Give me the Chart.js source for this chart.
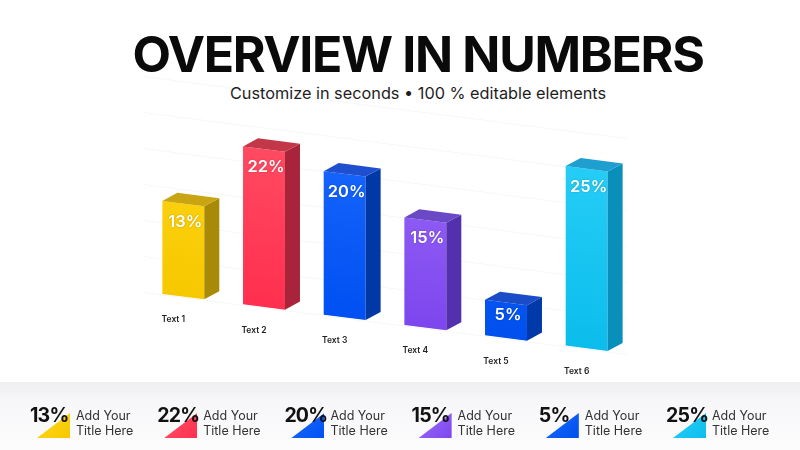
<!DOCTYPE html>
<html>
<head>
<meta charset="utf-8">
<script src="https://cdn.jsdelivr.net/npm/chart.js@4.4.0/dist/chart.umd.min.js"></script>
<style>
    html, body { margin: 0; padding: 0; }
    body { width: 800px; height: 450px; position: relative; overflow: hidden; background: #fff; font-family: "Inter", "Noto Sans", sans-serif; }
    .band { position: absolute; left: 0; top: 382px; width: 800px; height: 68px; background: linear-gradient(#efeff2 0, #f7f7f9 18px, #fcfcfd 68px); }
    .title { position: absolute; left: 18px; width: 800px; top: 24px; text-align: center; font-size: 50px; font-weight: 700; color: #0a0a0a; line-height: 60px; letter-spacing: -1.3px; }
    .subtitle { position: absolute; left: 18px; width: 800px; top: 82px; text-align: center; font-size: 16.3px; color: #1e1e1e; line-height: 22px; }
    #wrap { position: absolute; left: 0; top: 0; width: 800px; height: 450px; }
    .item { position: absolute; top: 403px; height: 40px; width: 125px; }
    .item .pct { position: absolute; left: 0; top: 0; font-size: 19.5px; font-weight: 700; color: #111; line-height: 24px; letter-spacing: -0.8px; z-index: 2; }
    .item .tri { position: absolute; left: 7px; top: 10px; width: 33px; height: 25px; clip-path: polygon(0 100%, 100% 0, 100% 100%); }
    .item .txt { position: absolute; left: 46px; top: 6px; font-size: 12.5px; color: #333; line-height: 14.5px; }
</style>
</head>
<body>
<div class="band"></div>
<div class="title">OVERVIEW IN NUMBERS</div>
<div class="subtitle">Customize in seconds • 100 % editable elements</div>
<div id="wrap"><canvas id="chart"></canvas></div>
<div id="legend"></div>
<script>
// ==== Data ====
const categories = ['Text 1', 'Text 2', 'Text 3', 'Text 4', 'Text 5', 'Text 6'];
const values = [13, 22, 20, 15, 5, 25];
const legendTitles = ['Add Your<br>Title Here', 'Add Your<br>Title Here', 'Add Your<br>Title Here',
    'Add Your<br>Title Here', 'Add Your<br>Title Here', 'Add Your<br>Title Here'];
const yMax = 30;
const yStep = 5;

// ==== Colours ====
const lightColors = ['#ffd81a', '#ff5468', '#1e6cff', '#9d6cf8', '#1a68ff', '#2ad0f8'];
const frontColors = ['#f6c800', '#ff2f4e', '#0050f2', '#7d46ee', '#0050ee', '#0bbdec'];
const sideColors = ['#a88a06', '#a8243a', '#0038a6', '#5230ae', '#003aa8', '#0a8fbb'];
const topColors = ['#c9a512', '#c23848', '#1d4fcf', '#6a48c6', '#1a4cc8', '#1e9fd0'];

const SKEW = 0.128;       // slant of the base line
const DEPTH_X = 15;       // 3d depth of the boxes
const DEPTH_Y = -10;

function skewY(chart, x, y) {
    return y + SKEW * (x - chart.chartArea.left);
}

// ==== Plugins ====
const perspective = {
    id: 'perspective',
    beforeDraw(chart) {
        const ctx = chart.ctx;
        ctx.save();
        ctx.transform(1, SKEW, 0, 1, 0, -SKEW * chart.chartArea.left);
    },
    afterDatasetsDraw(chart) {
        const ctx = chart.ctx;
        const meta = chart.getDatasetMeta(0);
        meta.data.forEach((bar, i) => {
            const half = bar.width / 2;
            const l = bar.x - half, r = bar.x + half, t = bar.y, b = bar.base;
            // side face
            ctx.fillStyle = sideColors[i];
            ctx.beginPath();
            ctx.moveTo(r, t);
            ctx.lineTo(r + DEPTH_X, t + DEPTH_Y);
            ctx.lineTo(r + DEPTH_X, b + DEPTH_Y);
            ctx.lineTo(r, b);
            ctx.closePath();
            ctx.fill();
            // top face
            ctx.fillStyle = topColors[i];
            ctx.beginPath();
            ctx.moveTo(l, t);
            ctx.lineTo(l + DEPTH_X, t + DEPTH_Y);
            ctx.lineTo(r + DEPTH_X, t + DEPTH_Y);
            ctx.lineTo(r, t);
            ctx.closePath();
            ctx.fill();
        });
    },
    afterDraw(chart) {
        const ctx = chart.ctx;
        ctx.restore();
        const meta = chart.getDatasetMeta(0);
        ctx.save();
        ctx.textAlign = 'center';
        ctx.textBaseline = 'middle';
        meta.data.forEach((bar, i) => {
            // value inside the bar
            ctx.font = '600 16.5px Inter';
            ctx.fillStyle = '#fff';
            ctx.shadowColor = 'rgba(0,0,0,0.25)';
            ctx.shadowBlur = 2;
            const ty = values[i] < 8 ? 13 : 18;
            ctx.fillText(values[i] + '%', bar.x + 2, skewY(chart, bar.x, bar.y) + ty);
            // category under the bar
            ctx.shadowBlur = 0;
            ctx.font = '600 8.5px Inter';
            ctx.fillStyle = '#222';
            ctx.fillText(categories[i], bar.x - 10, skewY(chart, bar.x, bar.base) + 23);
        });
        ctx.restore();
    }
};

function frontGradient(context) {
    const chart = context.chart;
    const area = chart.chartArea;
    if (!area) return frontColors[context.dataIndex];
    const g = chart.ctx.createLinearGradient(0, area.top, 0, area.bottom);
    g.addColorStop(0, lightColors[context.dataIndex]);
    g.addColorStop(1, frontColors[context.dataIndex]);
    return g;
}

new Chart(document.getElementById('chart'), {
    type: 'bar',
    data: {
        labels: categories,
        datasets: [{
            data: values,
            backgroundColor: frontGradient,
            borderWidth: 0,
            barPercentage: 0.52,
            categoryPercentage: 1
        }]
    },
    options: {
        responsive: true,
        maintainAspectRatio: false,
        animation: false,
        layout: { padding: { left: 143, right: 173, top: 76, bottom: 158 } },
        plugins: { legend: { display: false }, tooltip: { enabled: false } },
        scales: {
            x: { display: false },
            y: {
                min: 0,
                max: yMax,
                ticks: { display: false, stepSize: yStep },
                grid: { color: 'rgba(0,0,0,0.035)', drawTicks: false },
                border: { display: false }
            }
        }
    },
    plugins: [perspective]
});

// ==== Legend ====
const legend = document.getElementById('legend');
values.forEach((v, i) => {
    const item = document.createElement('div');
    item.className = 'item';
    item.style.left = (30 + i * 127.2) + 'px';
    item.innerHTML = `
        <div class="tri" style="background:linear-gradient(135deg, ${lightColors[i]}, ${frontColors[i]})"></div>
        <div class="pct">${v}%</div>
        <div class="txt">${legendTitles[i]}</div>
    `;
    legend.appendChild(item);
});
</script>
</body>
</html>
